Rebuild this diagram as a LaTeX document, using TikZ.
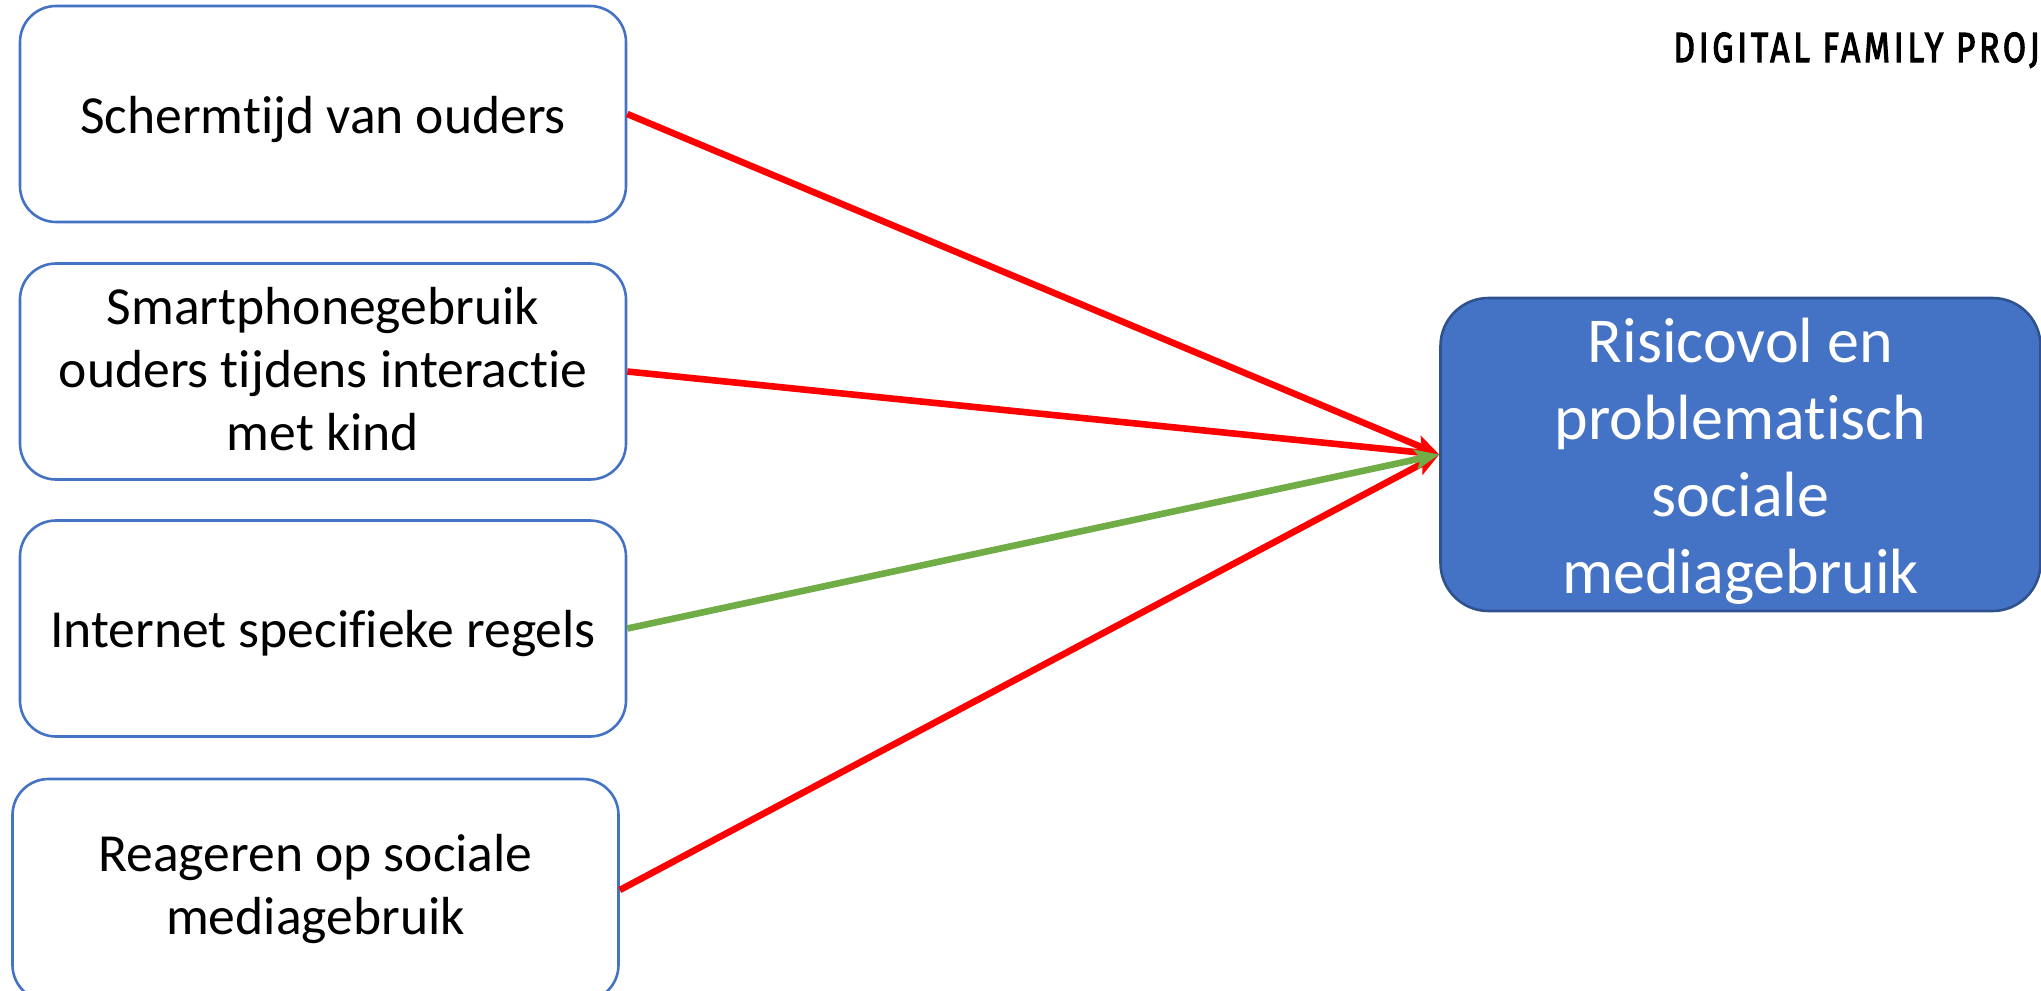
\documentclass[tikz,border=0pt]{standalone}
\usepackage{fontspec}
\setmainfont{Carlito}[Ligatures=NoCommon]
\newfontfamily\logofont[LetterSpace=11,FakeBold=3]{Fira Sans}
\usetikzlibrary{arrows.meta}
\definecolor{boxblue}{HTML}{4472C4}
\definecolor{darkblue}{HTML}{2F528F}
\definecolor{arrowgreen}{HTML}{70AD47}
\newcommand{\srctop}{\rule{0pt}{24pt}}
\newcommand{\srcbot}[1]{\rule[-#1]{0pt}{#1}}
\newcommand{\tgttop}{\rule{0pt}{29pt}}
\tikzset{
  x=0.5pt,y=-0.5pt,
  srcbox/.style={draw=boxblue,line width=1.3pt,fill=white,rounded corners=18pt,minimum width=303pt,inner sep=0pt,align=center,
    font=\fontsize{26.8}{31.5}\selectfont,text=black},
  targetbox/.style={draw=darkblue,line width=1.3pt,fill=boxblue,rounded corners=24pt,minimum width=300pt,minimum height=156.5pt,inner sep=0pt,align=center,
    font=\fontsize{32}{38.5}\selectfont,text=white},
  conn/.style={line width=3.3pt,-{Stealth[length=12pt,width=10pt,inset=2.5pt]}},
}
\begin{document}
\begin{tikzpicture}
\useasboundingbox (0,0) rectangle (2041,991);
\clip (0,0) rectangle (2041,991);
\node[srcbox,minimum height=108pt] (a) at (323,114) {\srctop Schermtijd van ouders};
\node[srcbox,minimum height=108pt] (b) at (323,371.5) {Smartphonegebruik\\ouders tijdens interactie\\met kind\srcbot{2.5pt}};
\node[srcbox,minimum height=108pt] (c) at (323,628.5) {\srctop Internet specifieke regels};
\node[srcbox,minimum height=111pt] (d) at (315.5,890) {Reageren op sociale\\mediagebruik\srcbot{5.6pt}};
\node[targetbox] (t) at (1740.5,454.5) {\tgttop Risicovol en\\problematisch\\sociale\\mediagebruik};
\node[anchor=base west,inner sep=0pt,font=\logofont\fontsize{21}{21}\selectfont,text=black] (logo) at (1673,62) {\scalebox{0.8}[1]{DIGITAL FAMILY PROJ}};
\draw[conn,red] (a.east) -- (t.west);
\draw[conn,red] (b.east) -- (t.west);
\draw[conn,red] (d.east) -- (t.west);
\draw[conn,arrowgreen] (c.east) -- (t.west);
\end{tikzpicture}
\end{document}
